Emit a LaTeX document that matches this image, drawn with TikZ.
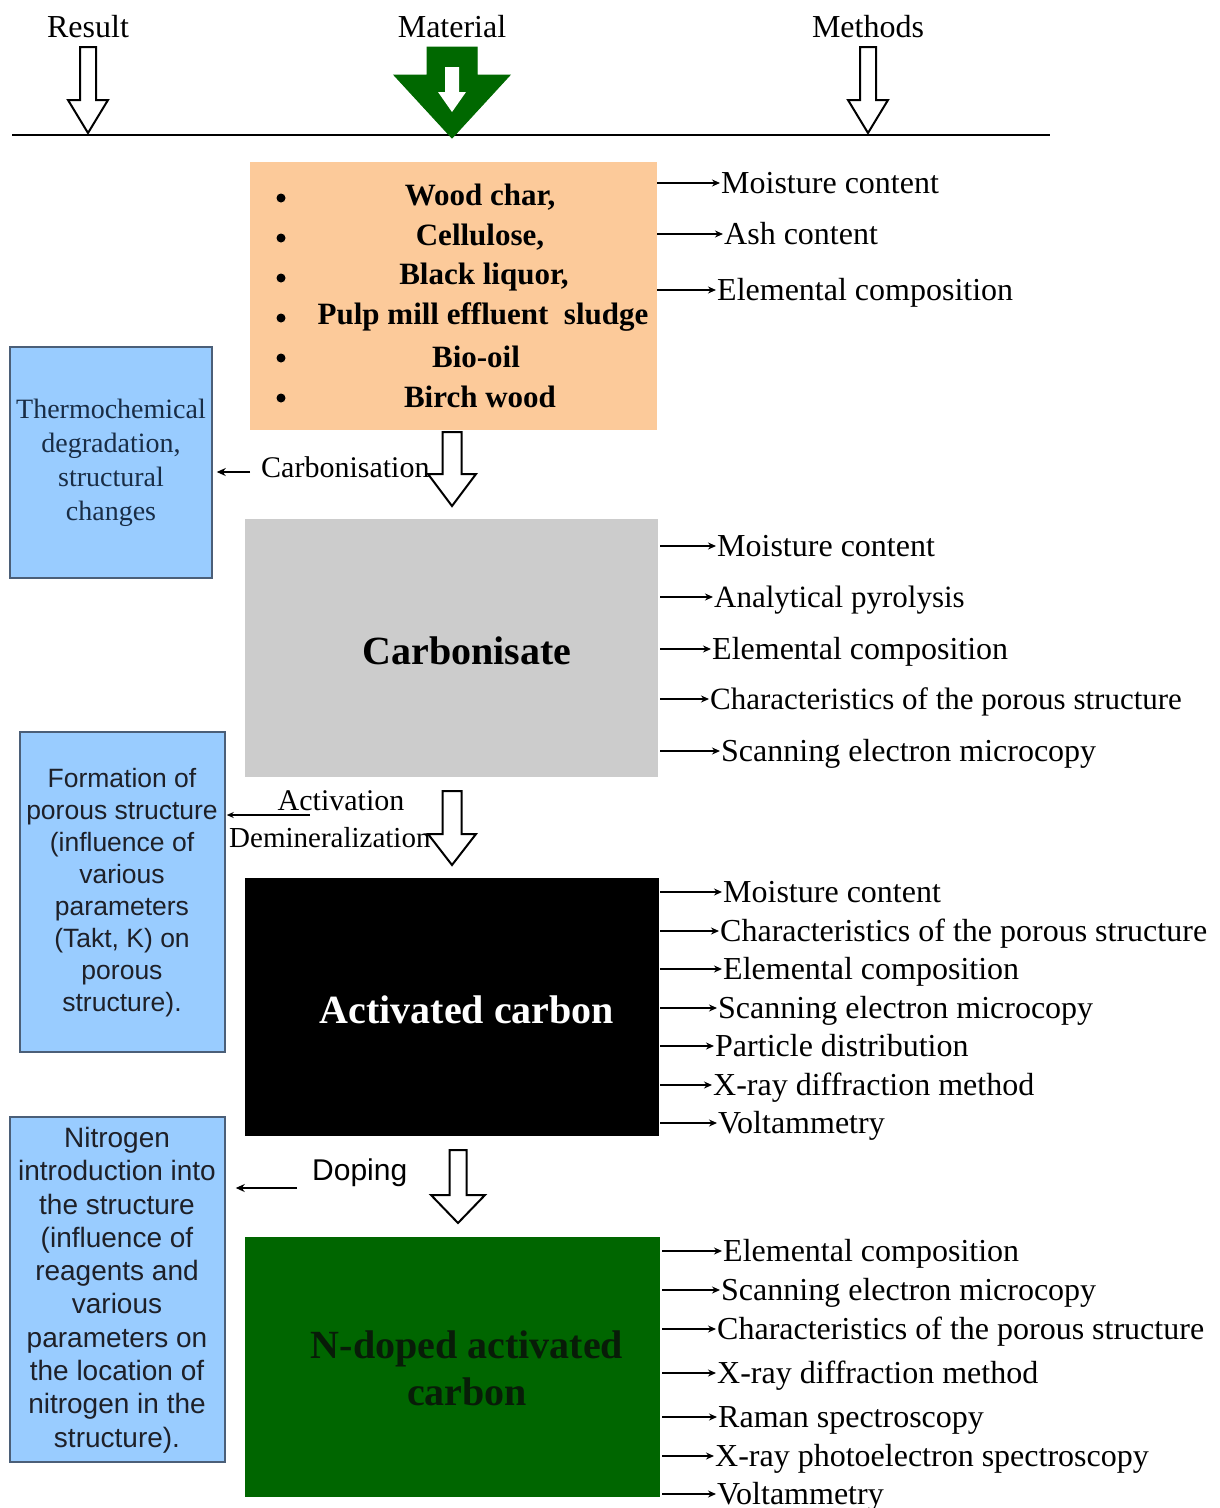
\documentclass[tikz,border=0pt]{standalone}
\usepackage{fontspec}
\setmainfont{Liberation Serif}
\setsansfont{Liberation Sans}
\usetikzlibrary{arrows.meta,calc}
\definecolor{orangefill}{RGB}{252,202,154}
\definecolor{bluefill}{RGB}{153,204,255}
\definecolor{blueedge}{RGB}{75,95,120}
\definecolor{greyfill}{RGB}{204,204,204}
\definecolor{greenfill}{RGB}{0,102,0}
\definecolor{toparrow}{RGB}{0,104,0}
\definecolor{navytext}{RGB}{25,45,70}
\definecolor{darktext}{RGB}{30,32,40}
\definecolor{ndoptext}{RGB}{8,28,8}
% block arrow: x, top, headstart, tip, shaft half-width, head half-width, style
\newcommand\blockarr[7]{%
  \draw[#7] (#1-#5,#2) -- (#1+#5,#2) -- (#1+#5,#3) -- (#1+#6,#3) -- (#1,#4)
    -- (#1-#6,#3) -- (#1-#5,#3) -- cycle;}
\tikzset{
  meth/.style={anchor=west, inner sep=1pt, font=\fontsize{32}{38}\selectfont,
    text height=24pt, text depth=4pt},
  methsm/.style={meth, font=\fontsize{31}{38}\selectfont},
  marr/.style={-{Stealth[length=8pt,width=7pt]}, line width=1.4pt},
  larr/.style={-{Stealth[length=9pt,width=8pt]}, line width=1.4pt},
  matbox/.style={draw=none, inner sep=0pt},
  bluebox/.style={draw=blueedge, fill=bluefill, line width=1.5pt, inner sep=0pt},
  hollow/.style={draw=black, fill=white, line width=2pt, line join=miter},
  toplbl/.style={font=\fontsize{32}{38}\selectfont, inner sep=0pt},
  matline/.style={font=\fontsize{31}{36}\selectfont\bfseries, inner sep=0pt},
  bulletdot/.style={circle, fill=black, draw=none, inner sep=0pt, minimum size=9pt},
  bigtitle/.style={font=\fontsize{40}{47}\selectfont\bfseries, inner sep=0pt, align=center},
}
\begin{document}
\begin{tikzpicture}[x=1pt,y=-1pt]
\useasboundingbox[fill=white] (0,0) rectangle (1219,1508);

% ---------- top line with arrows ----------
\node[toplbl] (result) at (88,27) {Result};
\node[toplbl] (material) at (452,27) {Material};
\node[toplbl] (methods) at (868,27) {Methods};
\coordinate (lineL) at (12,135);
\coordinate (lineR) at (1050,135);
\draw[line width=2pt] (lineL) -- (lineR);
\blockarr{88}{47}{100}{133}{8}{20}{hollow}
\blockarr{868}{47}{100}{133}{8}{20}{hollow}
\blockarr{452}{47}{75}{138}{25}{58}{fill=toparrow, draw=toparrow, line width=1pt}
\blockarr{452}{67}{92}{112}{7}{14}{fill=white, draw=none}

% ---------- material box ----------
\node[matbox, fill=orangefill, minimum width=407pt, minimum height=268pt] (mat) at (453.5,296) {};
\foreach \yy in {198,238,278,318,358,398} \node[bulletdot] at (281,\yy) {};
\node[matline] (m1) at (480,197) {Wood char,};
\node[matline] (m2) at (480,237) {Cellulose,};
\node[matline] (m3) at (484,277) {Black liquor,};
\node[matline] (m4) at (483,317) {Pulp mill effluent\ \ sludge};
\node[matline] (m5) at (476,357) {Bio-oil};
\node[matline] (m6) at (480,397) {Birch wood};

\node[meth] (o1) at (720,183) {Moisture content};
\node[meth] (o2) at (723,234) {Ash content};
\node[meth] (o3) at (716,290) {Elemental composition};
\foreach \n in {o1,o2,o3} \draw[marr] (mat.east |- \n.west) -- (\n.west);

% ---------- carbonisation ----------
\node[bluebox, minimum width=202pt, minimum height=231pt] (res1) at (111,462.5) {};
\node[align=center, inner sep=0pt, text=navytext, font=\fontsize{28}{34}\selectfont] (res1t) at (111,463) {Thermochemical\\degradation,\\structural\\changes};
\node[font=\fontsize{30}{36}\selectfont, anchor=west, inner sep=0pt] (carb) at (261,467) {Carbonisation};
\coordinate (carbA) at (250,472);
\draw[larr] (carbA) -- ($(res1.east |- carbA)+(4,0)$);
\blockarr{452}{432}{474}{506}{9.5}{24}{hollow}

% ---------- carbonisate ----------
\node[matbox, fill=greyfill, minimum width=413pt, minimum height=258pt] (carbz) at (451.5,648) {};
\node[bigtitle] (carbzt) at (467,651) {Carbonisate};
\node[meth] (g1) at (716,546) {Moisture content};
\node[methsm] (g2) at (713,597) {Analytical pyrolysis};
\node[meth] (g3) at (711,649) {Elemental composition};
\node[methsm] (g4) at (709,699) {Characteristics of the porous structure};
\node[meth] (g5) at (720,751) {Scanning electron microcopy};
\foreach \n in {g1,g2,g3,g4,g5} \draw[marr] ($(carbz.east |- \n.west)+(2,0)$) -- (\n.west);

% ---------- activation ----------
\node[bluebox, minimum width=205pt, minimum height=320pt] (res2) at (122.5,892) {};
\node[align=center, inner sep=0pt, text=darktext, font=\sffamily\fontsize{26.5}{32}\selectfont] (res2t) at (122,893) {Formation of\\porous structure\\(influence of\\various\\parameters\\(Takt, K) on\\porous\\structure).};
\node[font=\fontsize{30}{36}\selectfont, inner sep=0pt] (act) at (341,801) {Activation};
\node[font=\fontsize{29}{36}\selectfont, anchor=west, inner sep=0pt] (demin) at (229,838) {Demineralization};
\coordinate (actA) at (310,815);
\draw[-{Stealth[length=7pt,width=6pt]}, line width=1.2pt] (actA) -- ($(res2.east |- actA)+(1,0)$);
\blockarr{452}{791}{834}{865}{9.5}{24}{hollow}

% ---------- activated carbon ----------
\node[matbox, fill=black, minimum width=414pt, minimum height=258pt] (ac) at (452,1007) {};
\node[bigtitle, text=white] (act2) at (467,1010) {Activated carbon};
\node[meth] (b1) at (722,892) {Moisture content};
\node[meth] (b2) at (719,931) {Characteristics of the porous structure};
\node[meth] (b3) at (722,969) {Elemental composition};
\node[meth] (b4) at (717,1008) {Scanning electron microcopy};
\node[meth] (b5) at (714,1046) {Particle distribution};
\node[meth] (b6) at (712,1085) {X-ray diffraction method};
\node[meth] (b7) at (717,1123) {Voltammetry};
\foreach \n in {b1,b2,b3,b4,b5,b6,b7} \draw[marr] ($(ac.east |- \n.west)+(1,0)$) -- (\n.west);

% ---------- doping ----------
\node[bluebox, minimum width=215pt, minimum height=345pt] (res3) at (117.5,1289.5) {};
\node[align=center, inner sep=0pt, text=darktext, font=\sffamily\fontsize{28}{33.3}\selectfont] (res3t) at (117,1290) {Nitrogen\\introduction into\\the structure\\(influence of\\reagents and\\various\\parameters on\\the location of\\nitrogen in the\\structure).};
\node[font=\sffamily\fontsize{30}{36}\selectfont, anchor=west, inner sep=0pt] (dop) at (312,1173) {Doping};
\coordinate (dopA) at (297,1188);
\draw[larr] (dopA) -- ($(res3.east |- dopA)+(10,0)$);
\blockarr{458}{1150}{1195}{1223}{8.5}{27}{hollow}

% ---------- N-doped activated carbon ----------
\node[matbox, fill=greenfill, minimum width=415pt, minimum height=260pt] (nac) at (452.5,1367) {};
\node[bigtitle, text=ndoptext] (nact) at (467,1368) {N-doped activated\\carbon};
\node[meth] (n1) at (722,1251) {Elemental composition};
\node[meth] (n2) at (720,1290) {Scanning electron microcopy};
\node[meth] (n3) at (716,1329) {Characteristics of the porous structure};
\node[meth] (n4) at (716,1373) {X-ray diffraction method};
\node[meth] (n5) at (717,1417) {Raman spectroscopy};
\node[meth] (n6) at (714,1456) {X-ray photoelectron spectroscopy};
\node[meth] (n7) at (716,1494) {Voltammetry};
\foreach \n in {n1,n2,n3,n4,n5,n6,n7} \draw[marr] ($(nac.east |- \n.west)+(2,0)$) -- (\n.west);
\end{tikzpicture}
\end{document}
